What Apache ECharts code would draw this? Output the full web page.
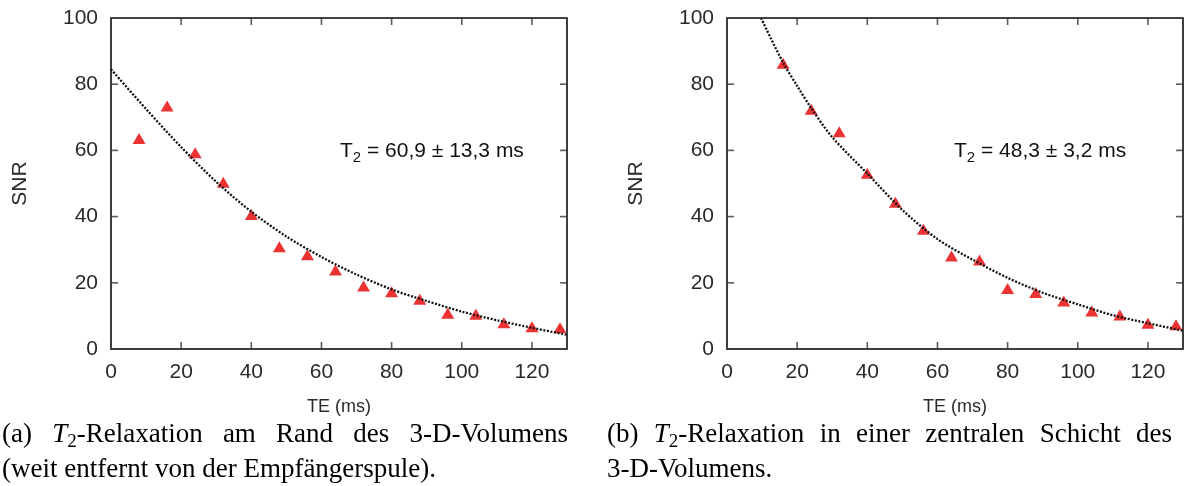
<!DOCTYPE html>
<html><head><meta charset="utf-8">
<script src="https://cdn.jsdelivr.net/npm/echarts@6/dist/echarts.min.js"></script>
<style>html,body{margin:0;padding:0;background:#fff}#c{width:1189px;height:486px}</style>
</head><body><div id="c"></div>
<script>
// ---- data ----
const teA = [8,16,24,32,40,48,56,64,72,80,88,96,104,112,120,128];
const snrA = [63.6,73.4,59.3,50.4,40.6,30.9,28.5,23.9,19.0,17.3,15.0,10.8,10.5,7.9,6.7,6.4];
const fitTeA = [0,10,20,30,40,50,60,70,80,90,100,110,120,130];
const fitA = [84.5,72.5,61,50.5,41.5,34,27.8,22.5,18,14.5,11.3,8.7,6.4,4.3];
const teB = [16,24,32,40,48,56,64,72,80,88,96,104,112,120,128];
const snrB = [86.3,72.4,65.6,53.1,44.3,36.2,28.1,26.9,18.3,17.1,14.5,11.5,10.3,7.8,7.3];
const fitTeB = [9.7,16,20,24,30,40,50,60,70,80,90,100,110,120,130];
const fitB = [100,86.5,79.5,72.8,64,53,42,33.2,27,21.5,17,13.5,10.2,7.8,5.5];
const xRange = [0,130], xStep = 20;
const yRange = [0,100], yStep = 20;
const xTicks = [20,40,60,80,100,120];
const yTicks = [20,40,60,80];
const xName = 'TE (ms)', yName = 'SNR';
const annA = ' = 60,9 ± 13,3 ms';
const annB = ' = 48,3 ± 3,2 ms';
const capA1 = [[['n','(a)']],[['i','T'],['sub','2'],['n','-Relaxation']],[['n','am']],[['n','Rand']],[['n','des']],[['n','3-D-Volumens']]];
const capA2 = '(weit entfernt von der Empfängerspule).';
const capB1 = [[['n','(b)']],[['i','T'],['sub','2'],['n','-Relaxation']],[['n','in']],[['n','einer']],[['n','zentralen']],[['n','Schicht']],[['n','des']]];
const capB2 = '3-D-Volumens.';

// ---- styles ----
const AX = '#333';
const SANS = 'Liberation Sans, Arial, sans-serif';
const SERIF = 'Liberation Serif, Times New Roman, serif';
const grids = [{left:111, top:18, width:456, height:331}, {left:727, top:18, width:456, height:331}];

function xAxis(g){
  return {gridIndex:g, type:'value', min:xRange[0], max:xRange[1], interval:xStep, position:'bottom',
     axisLine:{show:true, onZero:false, lineStyle:{color:AX, width:1.5}}, axisTick:{show:false},
     axisLabel:{show:true, showMaxLabel:false, margin:13, fontSize:21, fontFamily:SANS, color:'#2a2a2a'},
     splitLine:{show:false},
     name:xName, nameLocation:'middle', nameGap:49, nameTextStyle:{fontSize:18, fontFamily:SANS, color:'#2a2a2a'}};
}
function yAxis(g){
  return {gridIndex:g, type:'value', min:yRange[0], max:yRange[1], interval:yStep, position:'left',
     axisLine:{show:true, onZero:false, lineStyle:{color:AX, width:1.5}}, axisTick:{show:false},
     axisLabel:{show:true, margin:13, fontSize:21, fontFamily:SANS, color:'#2a2a2a'},
     splitLine:{show:false},
     name:yName, nameLocation:'middle', nameGap:80, nameTextStyle:{fontSize:21, fontFamily:SANS, color:'#2a2a2a'}};
}
function zip(a,b){ return a.map((v,i)=>[v,b[i]]); }
function scatter(i, xs, ys){
  return {type:'scatter', xAxisIndex:i, yAxisIndex:i, data:zip(xs,ys), symbol:'triangle', symbolSize:[13,11],
    itemStyle:{color:'#e60000'}, z:2};
}
function fit(i, xs, ys){
  return {type:'line', xAxisIndex:i, yAxisIndex:i, data:zip(xs,ys), smooth:0.3, showSymbol:false, symbol:'none',
    lineStyle:{color:'#111', width:2.3, type:[2,1.6]}, z:3};
}
// top/right border of the box, through the axis scales
function border(i){
  return {type:'line', xAxisIndex:i, yAxisIndex:i,
    data:[[xRange[0], yRange[1]], [xRange[1], yRange[1]], [xRange[1], yRange[0]]],
    showSymbol:false, symbol:'none', lineStyle:{color:AX, width:1.5, type:'solid'}, z:4};
}
// inward tick marks on all four sides, as small rect symbols at the tick values
function ticks(i, pts, size, offset){
  return {type:'scatter', xAxisIndex:i, yAxisIndex:i, data:pts, symbol:'rect', symbolSize:size, symbolOffset:offset,
    itemStyle:{color:AX}, z:4};
}
function tickSeries(i){
  return [
    ticks(i, xTicks.map(t=>[t, yRange[0]]), [1.6,7], [0,-3.5]),
    ticks(i, xTicks.map(t=>[t, yRange[1]]), [1.6,7], [0,3.5]),
    ticks(i, yTicks.map(t=>[xRange[0], t]), [7,1.6], [3.5,0]),
    ticks(i, yTicks.map(t=>[xRange[1], t]), [7,1.6], [-3.5,0])
  ];
}

// ---- caption layout helpers ----
const rich = {
  n:{fontFamily:SERIF, fontSize:27, fill:'#000', color:'#000'},
  i:{fontFamily:SERIF, fontSize:27, fontStyle:'italic', fill:'#000', color:'#000'},
  sub:{fontFamily:SERIF, fontSize:19, fill:'#000', color:'#000', padding:[15,0,0,0]}
};
const ctx = document.createElement('canvas').getContext('2d');
function segW(t, st){ ctx.font = (st.fontStyle||'normal')+' '+st.fontSize+'px '+st.fontFamily; return ctx.measureText(t).width; }
function markup(w){ return w.map(([k,t])=>'{'+k+'|'+t+'}').join(''); }
function justify(words, x0, x1, y){
  const ws = words.map(w=>w.reduce((s,[k,t])=>s+segW(t,rich[k]),0));
  const gap = (x1-x0-ws.reduce((a,b)=>a+b,0))/(words.length-1);
  let x = x0;
  return words.map((w,i)=>{ const el={type:'text', x:x, y:y, style:{text:markup(w), rich:rich, verticalAlign:'middle'}}; x += ws[i]+gap; return el; });
}
function plain(t, x, y){ return {type:'text', x:x, y:y, style:{text:'{n|'+t+'}', rich:rich, verticalAlign:'middle'}}; }
const annRich = {
  t:{fontFamily:SANS, fontSize:21, fill:'#111', color:'#111'},
  s:{fontFamily:SANS, fontSize:15, fill:'#111', color:'#111', padding:[14,0,0,0]}
};
function ann(t, x, y){ return {type:'text', x:x, y:y, style:{text:'{t|T}{s|2}{t|'+t+'}', rich:annRich, verticalAlign:'middle'}}; }

const chart = echarts.init(document.getElementById('c'), null, {renderer:'canvas'});
chart.setOption({
  backgroundColor:'#fff',
  animation:false,
  grid:grids.map(g=>Object.assign({show:true, borderColor:AX, borderWidth:1.5, backgroundColor:'rgba(0,0,0,0)'}, g)),
  xAxis:[xAxis(0), xAxis(1)],
  yAxis:[yAxis(0), yAxis(1)],
  series:[scatter(0,teA,snrA), fit(0,fitTeA,fitA), border(0), ...tickSeries(0),
          scatter(1,teB,snrB), fit(1,fitTeB,fitB), border(1), ...tickSeries(1)],
  graphic:[
    ann(annA, 340, 151), ann(annB, 954, 151),
    ...justify(capA1, 2, 568, 435), plain(capA2, 2, 470),
    ...justify(capB1, 607, 1172, 435), plain(capB2, 607, 470)
  ]
});
</script></body></html>
